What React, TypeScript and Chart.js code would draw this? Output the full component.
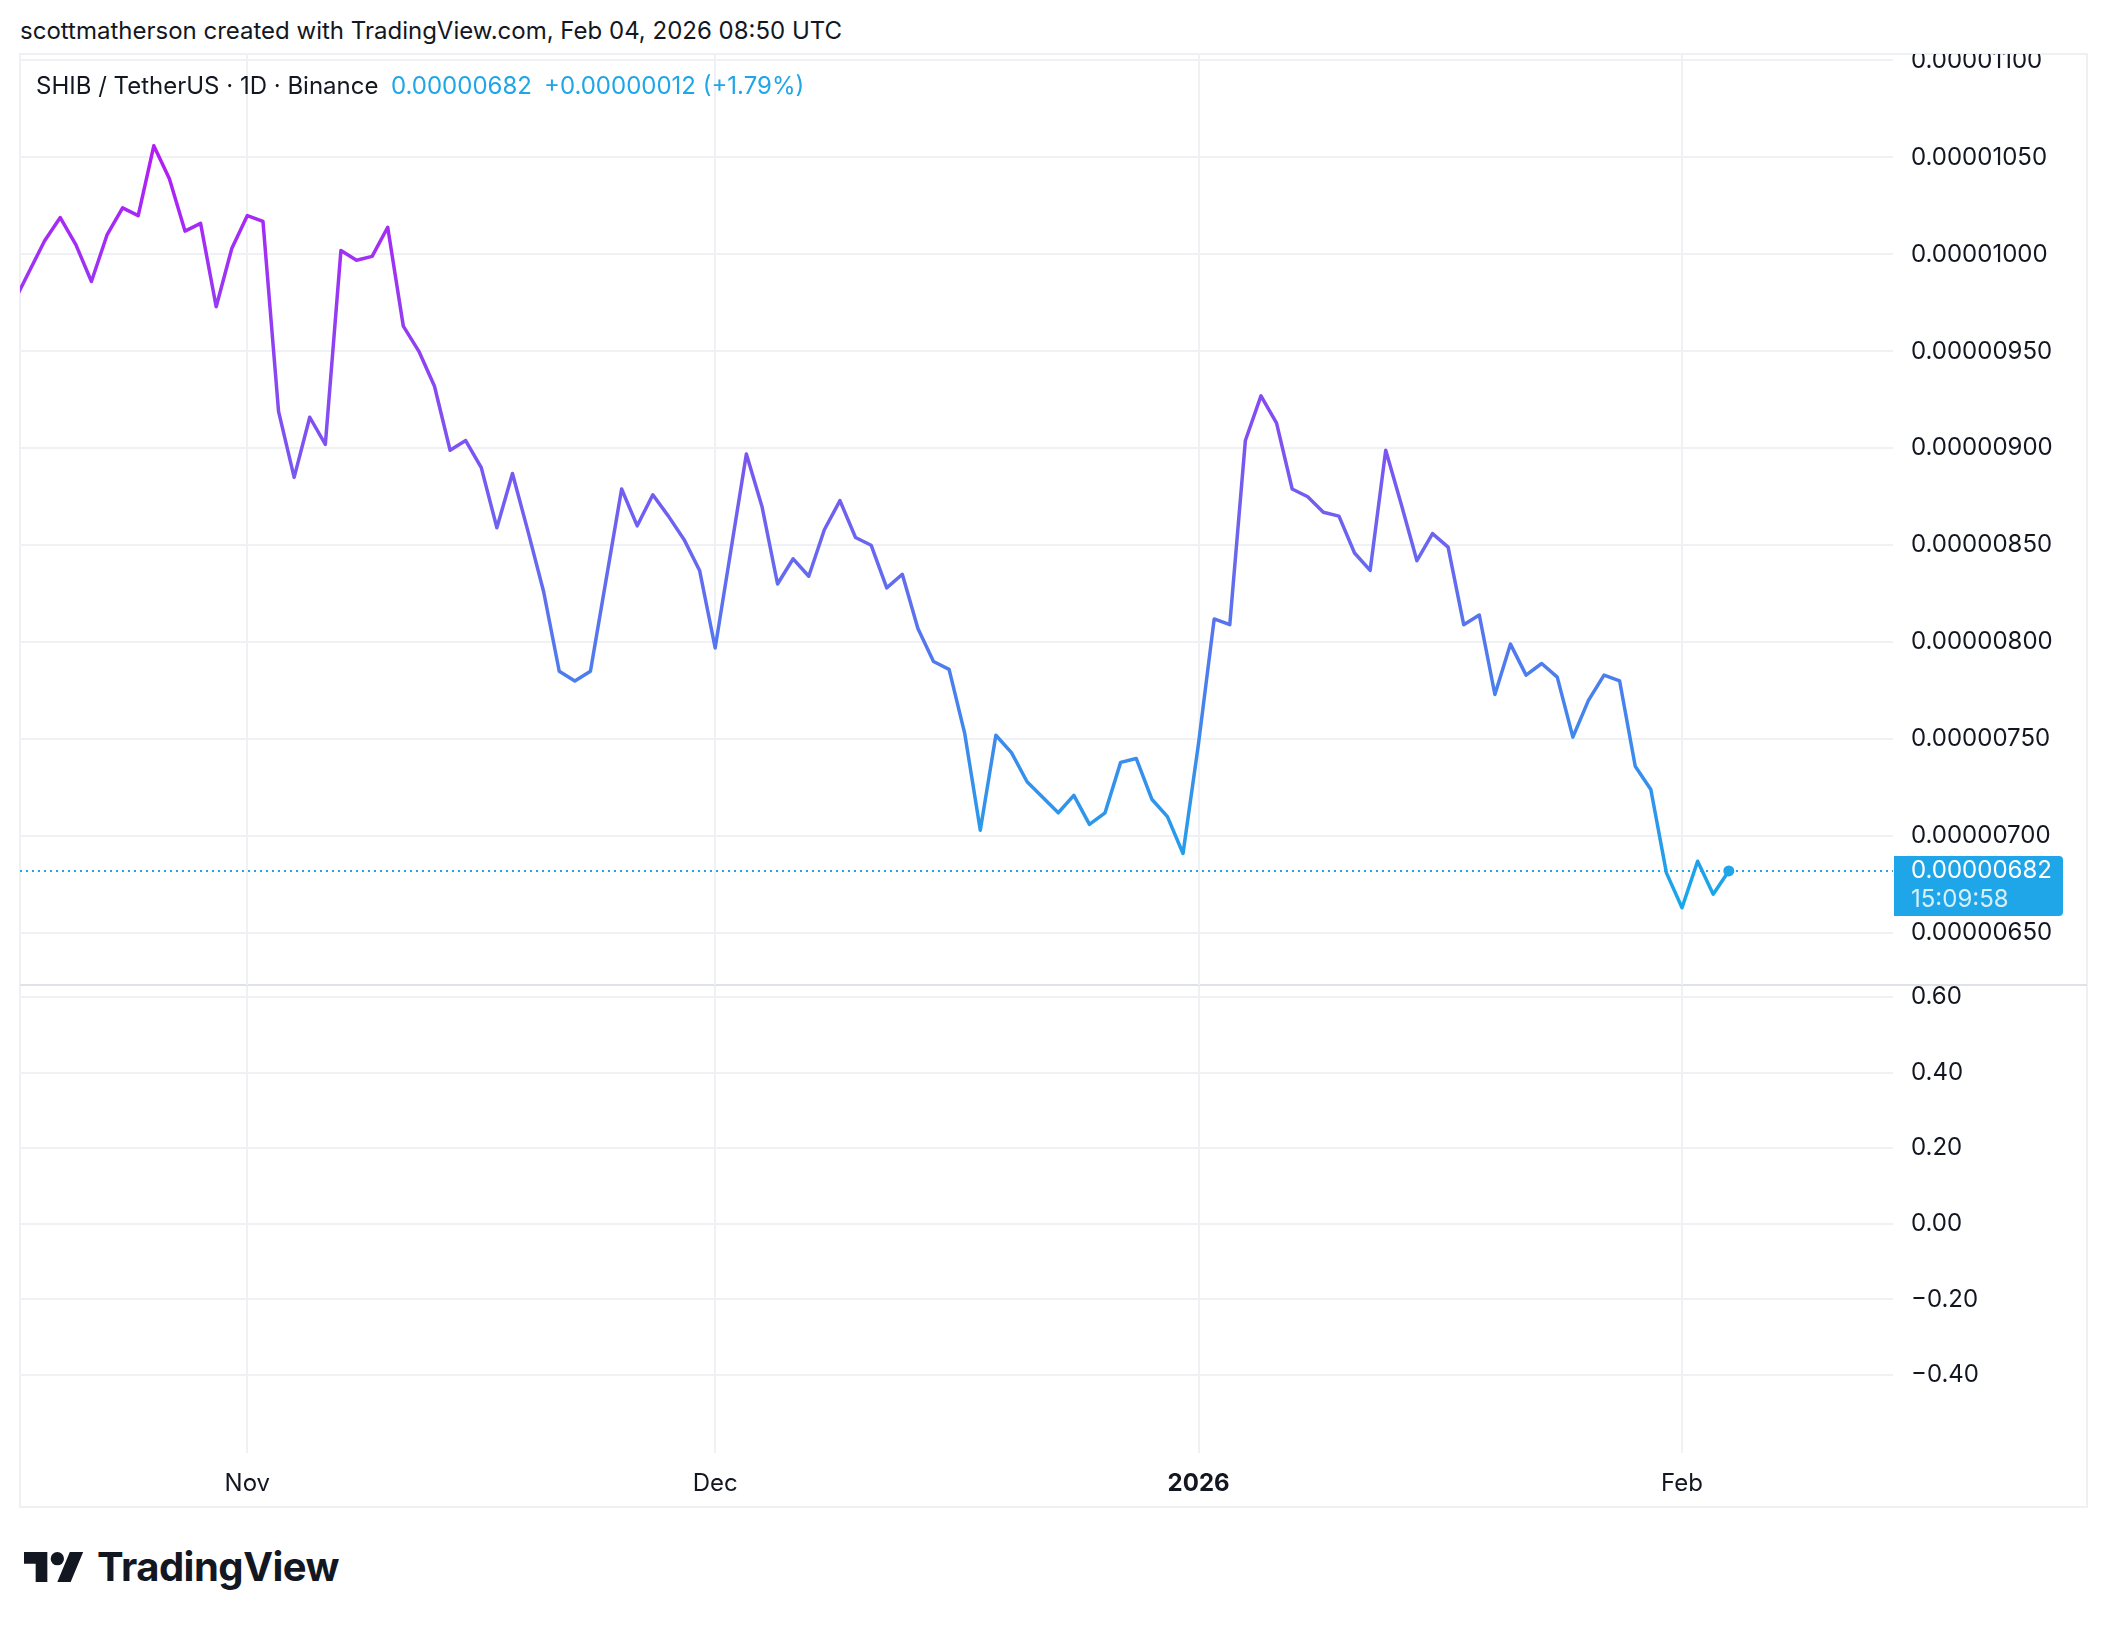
import React, { useEffect, useRef } from 'react';
import { Chart, registerables } from 'chart.js';

Chart.register(...registerables);

// ---------- data ----------
const START_DATE = '2025-10-17';
// SHIB / USDT daily closes in units of 1e-8 USDT
const closeOct = [975, 991, 1007, 1019, 1005, 986, 1010, 1024, 1020, 1056, 1039, 1012, 1016, 973, 1003];
const closeNov = [1020, 1017, 919, 885, 916, 902, 1002, 997, 999, 1014, 963, 950, 932, 899, 904, 890, 859, 887, 857, 826, 785, 780, 785, 832, 879, 860, 876, 865, 853, 837];
const closeDec = [797, 847, 897, 870, 830, 843, 834, 858, 873, 854, 850, 828, 835, 807, 790, 786, 753, 703, 752, 743, 728, 720, 712, 721, 706, 712, 738, 740, 719, 710, 691];
const closeJan = [748, 812, 809, 904, 927, 913, 879, 875, 867, 865, 846, 837, 899, 871, 842, 856, 849, 809, 814, 773, 799, 783, 789, 782, 751, 770, 783, 780, 736, 724, 681];
const closeFeb = [663, 687, 670, 682];

const priceTicks = [650, 700, 750, 800, 850, 900, 950, 1000, 1050, 1100];
const oscTicks = [0.6, 0.4, 0.2, 0, -0.2, -0.4];
const timeTickDates = ['2025-11-01', '2025-12-01', '2026-01-01', '2026-02-01'];
const timeTickLabels = ['Nov', 'Dec', '2026', 'Feb'];

const headerText = 'scottmatherson created with TradingView.com, Feb 04, 2026 08:50 UTC';
const symbolText = 'SHIB / TetherUS \u00b7 1D \u00b7 Binance';
const lastPriceText = '0.00000682';
const changeText = '+0.00000012 (+1.79%)';
const countdownText = '15:09:58';

// ---------- derived ----------
const closes = [...closeOct, ...closeNov, ...closeDec, ...closeJan, ...closeFeb];
const DAY = 86400000;
const dayIndex = (d: string) => Math.round((Date.parse(d) - Date.parse(START_DATE)) / DAY);
const points = closes.map((v, i) => ({ x: i, y: v }));
const timeTickDays = timeTickDates.map(dayIndex);
const lastPrice = closes[closes.length - 1];
const maxClose = Math.max(...closes);
const minClose = Math.min(...closes);

// ---------- styling ----------
const FONT = 'Inter';
const TEXT = '#131722';
const GRID = '#f0f1f4';
const BLUE = '#1fa6e8';
const X_MIN = 0.42;
const X_MAX = 120.53;
const PRICE_MIN = 623.18;
const PRICE_MAX = 1103.35;
const OSC_MIN = -0.6063;
const OSC_MAX = 0.6291;
const AXIS_W = 194;

const fmtPrice = (v: number) => (v / 1e8).toFixed(8);
const fmtOsc = (v: number) => {
  const s = Math.abs(v).toFixed(2);
  return v < -1e-9 ? '\u2212' + s : s;
};

const pricePlugin = {
  id: 'priceLine',
  beforeDatasetsDraw(chart: any) {
    const { ctx, chartArea, scales } = chart;
    const y = scales.y.getPixelForValue(lastPrice);
    ctx.save();
    ctx.strokeStyle = BLUE;
    ctx.lineWidth = 2;
    ctx.setLineDash([2, 4]);
    ctx.beginPath();
    ctx.moveTo(chartArea.left, y);
    ctx.lineTo(chartArea.right, y);
    ctx.stroke();
    ctx.restore();
  },
  afterDraw(chart: any) {
    const { ctx, chartArea, scales } = chart;
    const y = scales.y.getPixelForValue(lastPrice);
    const x0 = chartArea.right + 1;
    const w = 169;
    const t = y - 15;
    const h = 60;
    const r = 4;
    ctx.save();
    ctx.fillStyle = BLUE;
    ctx.beginPath();
    ctx.moveTo(x0, t);
    ctx.lineTo(x0 + w - r, t);
    ctx.quadraticCurveTo(x0 + w, t, x0 + w, t + r);
    ctx.lineTo(x0 + w, t + h - r);
    ctx.quadraticCurveTo(x0 + w, t + h, x0 + w - r, t + h);
    ctx.lineTo(x0, t + h);
    ctx.closePath();
    ctx.fill();
    ctx.font = `24px ${FONT}`;
    ctx.textAlign = 'left';
    ctx.textBaseline = 'middle';
    ctx.fillStyle = '#ffffff';
    ctx.fillText(fmtPrice(lastPrice), chartArea.right + 18, y);
    ctx.fillStyle = 'rgba(255,255,255,0.82)';
    ctx.fillText(countdownText, chartArea.right + 18, y + 28.5);
    ctx.restore();
  },
};

function lineGradient(context: any) {
  const chart = context.chart;
  const { chartArea, scales } = chart;
  if (!chartArea || !scales.y) return '#6c63f0';
  const top = scales.y.getPixelForValue(maxClose);
  const bot = scales.y.getPixelForValue(minClose);
  const g = chart.ctx.createLinearGradient(0, top, 0, bot);
  g.addColorStop(0, '#b41cf6');
  g.addColorStop(0.5, '#6e62f0');
  g.addColorStop(1, '#18a8e9');
  return g;
}

export default function App() {
  const topRef = useRef<HTMLCanvasElement>(null);
  const botRef = useRef<HTMLCanvasElement>(null);

  useEffect(() => {
    const last = closes.length - 1;
    const top = new Chart(topRef.current as HTMLCanvasElement, {
      type: 'line',
      data: {
        datasets: [
          {
            data: points as any,
            borderColor: lineGradient as any,
            borderWidth: 3.5,
            borderJoinStyle: 'round',
            borderCapStyle: 'round',
            tension: 0,
            pointRadius: ((c: any) => (c.dataIndex === last ? 5.5 : 0)) as any,
            pointHoverRadius: 0,
            pointBackgroundColor: BLUE,
            pointBorderWidth: 0,
          },
        ],
      },
      options: {
        animation: false,
        responsive: false,
        devicePixelRatio: 1,
        events: [],
        layout: { padding: 0, autoPadding: false },
        plugins: { legend: { display: false }, tooltip: { enabled: false } },
        scales: {
          x: {
            type: 'linear',
            min: X_MIN,
            max: X_MAX,
            position: 'bottom',
            afterBuildTicks: (s: any) => {
              s.ticks = timeTickDays.map((v) => ({ value: v }));
            },
            ticks: { display: false },
            grid: { color: GRID, lineWidth: 2, drawTicks: false },
            border: { display: false },
            afterFit: (s: any) => {
              s.height = 0;
              s.paddingLeft = 0;
              s.paddingRight = 0;
            },
          },
          y: {
            type: 'linear',
            position: 'right',
            min: PRICE_MIN,
            max: PRICE_MAX,
            afterBuildTicks: (s: any) => {
              s.ticks = priceTicks.map((v) => ({ value: v }));
            },
            ticks: {
              padding: 18,
              color: TEXT,
              font: { family: FONT, size: 24 },
              callback: (v: any) => fmtPrice(Number(v)),
            },
            grid: { color: GRID, lineWidth: 2, drawTicks: false },
            border: { display: false },
            afterFit: (s: any) => {
              s.width = AXIS_W;
              s.paddingTop = 0;
              s.paddingBottom = 0;
            },
          },
        },
      },
      plugins: [pricePlugin],
    });

    const bot = new Chart(botRef.current as HTMLCanvasElement, {
      type: 'line',
      data: { datasets: [{ data: [] }] },
      options: {
        animation: false,
        responsive: false,
        devicePixelRatio: 1,
        events: [],
        layout: { padding: 0, autoPadding: false },
        plugins: { legend: { display: false }, tooltip: { enabled: false } },
        scales: {
          x: {
            type: 'linear',
            min: X_MIN,
            max: X_MAX,
            position: 'bottom',
            afterBuildTicks: (s: any) => {
              s.ticks = timeTickDays.map((v) => ({ value: v }));
            },
            ticks: {
              autoSkip: false,
              maxRotation: 0,
              padding: 16,
              color: TEXT,
              font: ((c: any) => ({
                family: FONT,
                size: 24,
                weight: /^\d{4}$/.test(timeTickLabels[c.index] || '') ? '700' : '400',
              })) as any,
              callback: (_v: any, i: number) => timeTickLabels[i],
            },
            grid: { color: GRID, lineWidth: 2, drawTicks: false },
            border: { display: false },
            afterFit: (s: any) => {
              s.height = 55;
              s.paddingLeft = 0;
              s.paddingRight = 0;
            },
          },
          y: {
            type: 'linear',
            position: 'right',
            min: OSC_MIN,
            max: OSC_MAX,
            afterBuildTicks: (s: any) => {
              s.ticks = oscTicks.map((v) => ({ value: v }));
            },
            ticks: {
              padding: 18,
              color: TEXT,
              font: { family: FONT, size: 24 },
              callback: (v: any) => fmtOsc(Number(v)),
            },
            grid: { color: GRID, lineWidth: 2, drawTicks: false },
            border: { display: false },
            afterFit: (s: any) => {
              s.width = AXIS_W;
              s.paddingTop = 0;
              s.paddingBottom = 0;
            },
          },
        },
      },
    });

    return () => {
      top.destroy();
      bot.destroy();
    };
  }, []);

  const abs = (o: any) => ({ position: 'absolute' as const, ...o });
  const txt = {
    fontFamily: FONT,
    fontSize: 24,
    lineHeight: '30px',
    whiteSpace: 'nowrap' as const,
    color: TEXT,
  };

  return (
    <div style={abs({ left: 0, top: 0, width: 2108, height: 1628, background: '#ffffff', overflow: 'hidden' })}>
      <div style={abs({ ...txt, left: 20, top: 16 })}>{headerText}</div>
      {/* frame */}
      <div
        style={abs({
          left: 19,
          top: 53,
          width: 2069,
          height: 1455,
          border: '2px solid #eef0f3',
          boxSizing: 'border-box',
        })}
      />
      <div style={abs({ left: 20, top: 984, width: 2067, height: 2, background: '#dfe2e8' })} />
      <canvas ref={topRef} width={2067} height={931} style={abs({ left: 20, top: 54, width: 2067, height: 931 })} />
      <canvas ref={botRef} width={2067} height={522} style={abs({ left: 20, top: 986, width: 2067, height: 522 })} />
      <div style={abs({ ...txt, left: 36, top: 71 })}>{symbolText}</div>
      <div style={abs({ ...txt, left: 391, top: 71, color: BLUE })}>{lastPriceText}</div>
      <div style={abs({ ...txt, left: 544, top: 71, color: BLUE })}>{changeText}</div>
      {/* logo */}
      <svg style={abs({ left: 24, top: 1552 })} width={60} height={30} viewBox="0 4 36 18">
        <path d="M14 22H7V11H0V4h14v18zM28 22h-8l7.5-18h8L28 22z" fill={TEXT} />
        <circle cx="20" cy="8" r="4" fill={TEXT} />
      </svg>
      <div
        style={abs({
          left: 97,
          top: 1547,
          fontFamily: FONT,
          fontSize: 40,
          fontWeight: 700,
          lineHeight: '40px',
          letterSpacing: '-0.5px',
          color: TEXT,
          whiteSpace: 'nowrap',
        })}
      >
        TradingView
      </div>
    </div>
  );
}
